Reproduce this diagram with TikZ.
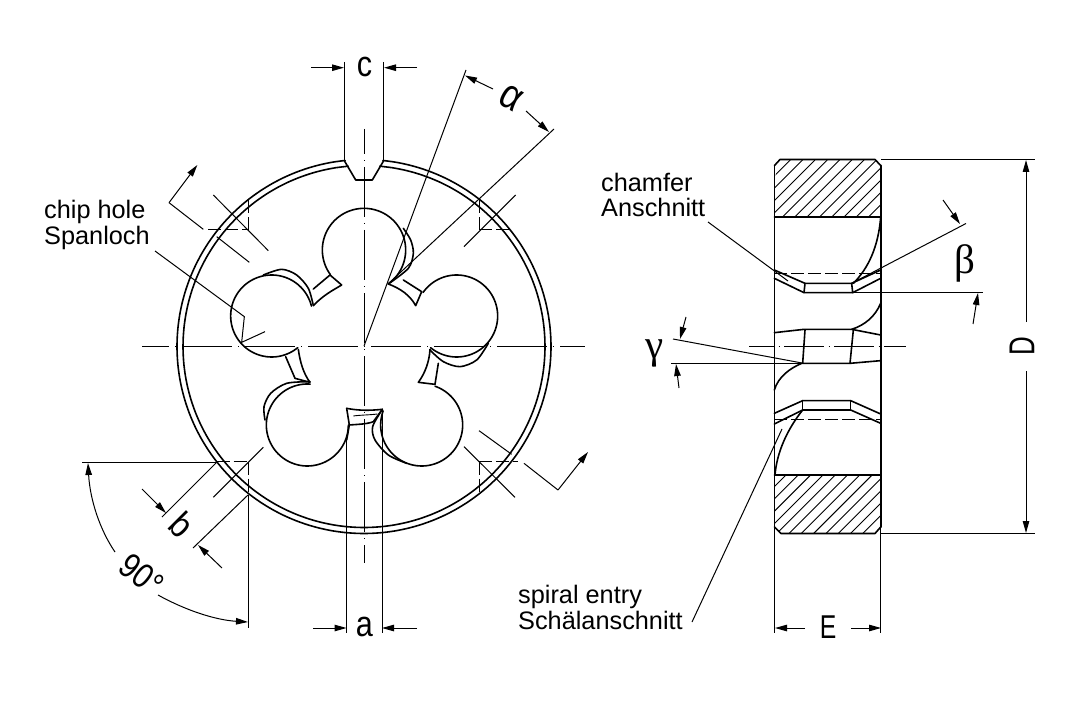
\documentclass[tikz,border=0pt]{standalone}
\usepackage{fontspec}
\usepackage{graphicx}
\setmainfont{Liberation Sans}
\newfontfamily\serifgr{Liberation Serif}
\usetikzlibrary{arrows.meta}
\newcommand{\lobe}[5]{plot[domain=#4:#5,samples=90,smooth] ({#1+#3*cos(\x)},{#2+#3*sin(\x)})}
\tikzset{
  body/.style={line width=1.6pt,line join=round,line cap=round},
  thin line/.style={line width=1pt},
  thinner/.style={line width=.9pt},
  dim/.style={line width=1pt,-{Triangle[length=12pt,width=6.5pt]}},
  cdash/.style={line width=1pt,dash pattern=on 50pt off 6pt on 1pt off 6pt},
  sdash/.style={line width=1pt,dash pattern=on 13pt off 4pt},
  lab/.style={font=\fontsize{25.3}{27}\selectfont,anchor=base west,inner sep=0pt},
  dimlab/.style={font=\fontsize{36}{38}\selectfont,inner sep=0pt},
  caplab/.style={font=\fontsize{33}{36}\selectfont,inner sep=0pt},
  grk/.style={font=\fontsize{41}{43}\selectfont\serifgr,inner sep=0pt}
}
\begin{document}
\begin{tikzpicture}[x=1pt,y=-1pt]
\useasboundingbox (0,0) rectangle (1086,719);
% rim
\draw[body] \lobe{364}{346.5}{187}{-84.2}{264.2};
\draw[body] \lobe{364}{346.5}{181}{-85}{265};
% slot c
\draw[thin line] (344.5,62)--(344.5,161) (383.5,62)--(383.5,161);
\draw[body] (344.5,161)--(355.7,180)--(372.3,180)--(383.5,161);
% centre lines
\draw[cdash,dash phase=23pt] (142,346)--(585,346);
\draw[cdash,dash phase=25pt] (364,129)--(364,563);
% die in zoom coordinates
\begin{scope}[shift={(140,140)},scale=1/3]
\draw[body] \lobe{672}{330}{125}{143.7}{414.4};
\draw[body] \lobe{950}{528}{123}{215}{489.5};
\draw[body] \lobe{845}{855}{123}{-71}{200};
\draw[body] \lobe{502}{855}{123}{0}{274};
\draw[body] \lobe{395}{528}{123}{50.5}{346};
\draw[body] plot[smooth] coordinates {(790,265)(812,300)(820,340)(805,385)(745,432)};
\draw[body] plot[smooth] coordinates {(1045,610)(1010,660)(960,680)(910,665)(870,630)};
\draw[body] plot[smooth] coordinates {(800,970)(745,945)(705,900)(698,860)(727,808)};
\draw[body] plot[smooth] coordinates {(375,840)(372,800)(392,760)(440,730)(510,725)};
\draw[body] plot[smooth] coordinates {(370,405)(425,388)(470,405)(505,445)(520,497)};
% teeth
\draw[body] (520,497) .. controls (550,465) and (580,450) .. (605,435) -- (570,405);
\draw[body] (570,405) -- (520,447);
\draw[body] (745,432) .. controls (780,445) and (810,465) .. (827,497) -- (845,455);
\draw[body] (845,455) -- (790,420);
\draw[body] (870,628) .. controls (868,665) and (855,700) .. (835,727) -- (885,733);
\draw[body] (885,733) -- (895,670);
\draw[body] (475,628) .. controls (480,665) and (490,700) .. (510,727) -- (465,715);
\draw[body] (465,715) -- (437,650);
% bottom slot
\draw[body] (620,805) .. controls (655,812) and (690,812) .. (727,808);
\draw[body] (620,805) -- (628,855) -- (620,900);
\draw[body] (628,855) .. controls (650,853) and (680,853) .. (700,845) -- (727,808);
\draw[thinner] (640,828) .. controls (660,825) and (690,825) .. (712,822);
% slot a lines
\draw[thin line] (620,900)--(620,1480) (727,810)--(727,1480);
% corner marks
\draw[thin line] (220,165)--(385,332);
\draw[sdash] (205,270)--(325,270);
\draw[sdash] (325,270)--(325,180);
\draw[thin line] (230,290)--(328,367);
\draw[thin line] (190,268)--(87,188);
\draw[dim] (87,188)--(172,75);
\draw[thin line] (1127,165)--(972,320);
\draw[sdash] (1018,270)--(1115,270);
\draw[sdash] (1018,270)--(1018,175);
\draw[thin line] (972,920)--(1125,1072);
\draw[sdash] (1018,965)--(1135,965);
\draw[sdash] (1018,965)--(1018,1060);
\draw[thin line] (1017,872)--(1115,943);
\draw[thin line] (1152,970)--(1254,1050);
\draw[thin line] (370,922)--(220,1072);
\draw[sdash] (230,965)--(325,965);
\draw[sdash] (325,965)--(325,1065);
% chip hole leader
\draw[thin line] (45,333)--(313,530)--(305,607)--(375,575);
\end{scope}
% 90 and b dims
\draw[thin line] (82,462)--(217,462);
\draw[thin line] (248,495)--(248,628);
\draw[thin line] (217,462)--(162,517);
\draw[thin line] (248,495)--(193,548);
\draw[dim] (142,489)--(166,513);
\draw[dim] (222,568)--(198,545);
\draw[dim] (115,552) .. controls (100,530) and (90,500) .. (88,463);
\draw[dim] (158,595) .. controls (185,610) and (215,620) .. (248,622);
% bottom-right leader
\coordinate (brk) at (558,490);
\draw[dim] (brk)--(588,452);
% dims a, c
\draw[dim] (311,67.7)--(344,67.7);
\draw[dim] (417,67.7)--(384,67.7);
\draw[dim] (313,628)--(346.5,628);
\draw[dim] (417,628)--(382,628);
% alpha
\draw[thin line] (364,346)--(466,70);
\draw[thin line] (388,284)--(554,129);
\draw[dim] (493,89)--(465,75.5);
\draw[dim] (526,111)--(549,132);
% side view
\begin{scope}
\clip (775,217)--(775,177)--(780.5,159.5)--(875,159.5)--(881,166)--(881,217)--cycle;
\foreach \k in {0,...,15} \draw[thinner] ({778+\k*12.3},160)--({778+\k*12.3-60},220);
\end{scope}
\begin{scope}
\clip (775,475)--(775,527)--(781,533.5)--(875,533.5)--(881,527)--(881,475)--cycle;
\foreach \k in {0,...,15} \draw[thinner] ({786+\k*12.3},475)--({786+\k*12.3-60},535);
\end{scope}
\draw[body] (774.5,165.5)--(780,159.5)--(875,159.5)--(880.7,165.5);
\draw[body] (774.5,527)--(781,533.5)--(875,533.5)--(880.7,527);
\draw[body] (774.5,217.3)--(880.7,217.3);
\draw[body] (774.5,475)--(880.7,475);
\draw[body] (774.5,165.5)--(774.5,527);
\draw[body] (880.7,165.5)--(880.7,527);
\draw[thin line] (774.5,527)--(774.5,633);
\draw[thin line] (880.7,527)--(880.7,633);
\begin{scope}[shift={(740,140)},scale=1/3]
\draw[sdash] (103,400)--(422,400);
\draw[body] (103,390)--(195,430)--(335,430)--(422,390);
\draw[body] (103,415)--(192,458)--(338,458)--(422,415);
\draw[body] (195,430)--(192,458) (335,430)--(338,458);
\draw[body] (422,232) .. controls (415,320) and (385,385) .. (340,430);
\draw[body] (422,490) .. controls (405,530) and (375,555) .. (335,568);
\draw[body] (103,578)--(192,568)--(335,568)--(422,585);
\draw[thin line] (338,458)--(729,458);
\draw[thin line] (335,430)--(678,250.5);
\end{scope}
\begin{scope}[shift={(740,330)},scale=1/3]
\draw[body] (195,0)--(188,100) (340,0)--(330,100);
\draw[body] (188,100)--(330,100)--(422,92);
\draw[body] (185,100) .. controls (150,115) and (115,140) .. (103,180);
\draw[body] (103,250)--(188,212)--(332,212)--(422,252);
\draw[body] (103,282)--(188,240)--(332,240)--(422,280);
\draw[body] (188,212)--(188,240) (332,212)--(332,240);
\draw[sdash] (103,268)--(422,268);
\draw[body] (188,240) .. controls (140,300) and (110,370) .. (105,435);
\end{scope}
\draw[cdash,dash pattern=on 40pt off 4.5pt on 1pt off 4.5pt,dash phase=15pt] (749,346)--(906,346);
% side leaders
\draw[thin line] (708,222)--(788,281);
\draw[thin line] (692,622)--(782,429);
% side dims
\draw[thin line] (881,159.5)--(1035,159.5);
\draw[thin line] (881,533.5)--(1035,533.5);
\draw[dim] (1026,322)--(1026,160);
\draw[dim] (1026,371)--(1026,533);
\draw[dim] (805,628)--(775,628);
\draw[dim] (851,628)--(881,628);
\draw[dim] (943,200)--(960,224);
\draw[dim] (973,324)--(978,293);
\draw[thin line] (673,339)--(802,363);
\draw[thin line] (671,363)--(802,363);
\draw[dim] (686,317)--(680,339);
\draw[dim] (679,388)--(676,364);
% labels
\node[lab] (chip) at (44,218.5) {chip hole};
\node[lab] (span) at (44,244) {Spanloch};
\node[lab] (cham) at (601,192) {chamfer};
\node[lab] (ansch) at (601,217) {Anschnitt};
\node[lab] (spir) at (518,603) {spiral entry};
\node[lab] (schae) at (518,629) {Schälanschnitt};
\node[dimlab] (lc) at (364.5,66.5) {\scalebox{.85}[1]{c}};
\node[dimlab] (la) at (364.5,626.5) {\scalebox{.85}[1]{a}};
\node[caplab] (lE) at (828,627) {\scalebox{.75}[1]{E}};
\node[font=\fontsize{36}{38}\selectfont,inner sep=0pt,rotate=90] (lD) at (1022,346.5) {\scalebox{.72}[1]{D}};
\node[font=\fontsize{36}{38}\selectfont,inner sep=0pt,rotate=-45] (lb) at (182,525) {\scalebox{.9}[1]{b}};
\node[font=\fontsize{35}{38}\selectfont,inner sep=0pt,rotate=-38] (l90) at (142,575) {\scalebox{.85}[1]{90°}};
\node[font=\fontsize{42}{44}\selectfont,inner sep=0pt,rotate=-30] (lal) at (511,98) {\scalebox{.85}[1]{α}};
\node[grk] (lbeta) at (964.5,263.5) {β};
\node[grk] (lgam) at (654.5,353) {γ};
\end{tikzpicture}
\end{document}
